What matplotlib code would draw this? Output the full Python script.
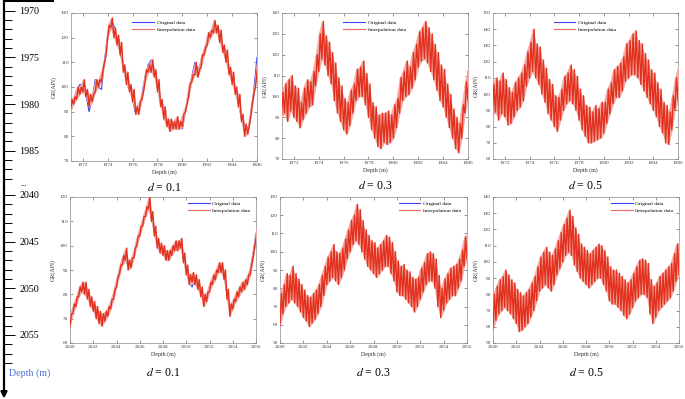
import numpy as np
import matplotlib
matplotlib.use("Agg")
import matplotlib.pyplot as plt
from matplotlib.lines import Line2D

plt.rcParams["font.family"] = ["Liberation Serif", "DejaVu Serif"]
plt.rcParams["mathtext.fontset"] = "stix"

BLUE = "#3c46ff"
RED = "#e2321f"
PINK = "#f4aaa2"

# depth samples (m), logged every 0.25 m
depth_top = np.arange(1971.0, 1986.001, 0.25)
depth_bot = np.arange(2040.0, 2056.001, 0.25)

# original GR log (API)
orig_top = [92, 95, 98, 101, 101, 97, 90, 95, 103, 100, 99, 111, 121, 127, 125, 119,
            114, 108, 103, 100, 95, 89, 90, 97, 104, 109, 111, 107, 100, 94, 89, 86,
            84, 85, 86, 85, 83, 90, 98, 104, 110, 107, 110, 115, 119, 122, 125, 124,
            120, 116, 112, 107, 103, 99, 94, 87, 82, 81, 89, 99, 112]
orig_bot = [70, 74, 77, 81, 83, 83, 80, 77, 75, 73, 71, 70, 71, 73, 76, 80,
            85, 90, 94, 96, 92, 93, 97, 102, 106, 110, 114, 117, 112, 106, 101, 99,
            98, 96, 96, 98, 100, 100, 101, 95, 90, 85, 83, 86, 84, 81, 78, 79,
            83, 86, 88, 91, 91, 88, 80, 74, 76, 79, 81, 83, 84, 86, 90, 97, 105]

# interpolated data, low / high swing at each sample
lo_top_01 = [90, 93, 95, 97, 98, 96, 92, 94, 98, 100, 102, 110, 120, 124, 120, 117,
             113, 106, 101, 98, 94, 89, 89, 95, 102, 106, 106, 104, 98, 92, 87, 84,
             82, 83, 83, 83, 84, 90, 96, 102, 105, 104, 108, 113, 117, 120, 122, 122,
             118, 114, 110, 105, 101, 97, 92, 86, 80, 81, 88, 97, 106]
hi_top_01 = [95, 96, 100, 100, 103, 99, 97, 97, 103, 103, 107, 113, 125, 128, 124, 121,
             118, 109, 106, 101, 99, 92, 94, 98, 107, 109, 111, 107, 103, 95, 92, 87,
             87, 86, 88, 86, 89, 93, 101, 105, 110, 107, 113, 116, 122, 123, 127, 125,
             123, 117, 115, 108, 106, 100, 97, 89, 85, 84, 93, 100, 111]
lo_top_03 = [90, 92, 88, 93, 90, 88, 85, 89, 92, 95, 96, 105, 112, 118, 115, 110,
             106, 98, 92, 88, 84, 82, 86, 92, 98, 100, 100, 96, 90, 84, 80, 76,
             75, 78, 77, 78, 80, 85, 92, 98, 100, 101, 104, 108, 114, 117, 118, 116,
             112, 108, 103, 98, 95, 90, 85, 80, 75, 73, 80, 92, 98]
hi_top_03 = [102, 106, 108, 110, 105, 104, 97, 104, 108, 107, 112, 120, 130, 136, 129, 126,
             121, 116, 109, 105, 99, 97, 103, 106, 113, 114, 117, 111, 106, 97, 95, 91,
             92, 92, 93, 91, 96, 99, 109, 112, 117, 114, 121, 125, 131, 133, 136, 133,
             130, 125, 121, 115, 113, 106, 101, 94, 90, 87, 96, 107, 113]
lo_top_05 = [86, 89, 84, 88, 86, 81, 82, 86, 90, 92, 96, 105, 110, 114, 110, 106,
             100, 95, 88, 84, 80, 77, 84, 90, 94, 96, 94, 90, 84, 78, 74, 70,
             70, 71, 72, 73, 76, 82, 88, 94, 98, 98, 102, 108, 110, 112, 112, 110,
             106, 102, 98, 94, 90, 86, 80, 76, 70, 69, 78, 90, 96]
hi_top_05 = [106, 110, 108, 113, 109, 104, 101, 107, 110, 113, 118, 126, 132, 140, 131, 129,
             121, 116, 109, 106, 99, 98, 103, 111, 113, 118, 115, 111, 103, 99, 93, 92,
             89, 93, 91, 95, 95, 103, 107, 115, 117, 119, 123, 131, 133, 137, 139, 133,
             131, 125, 121, 115, 113, 107, 103, 95, 93, 89, 99, 110, 117]

lo_bot_01 = [67, 72, 75, 79, 81, 80, 78, 75, 73, 70, 68, 67, 69, 71, 74, 78,
             83, 88, 92, 94, 90, 91, 95, 100, 104, 108, 112, 115, 110, 104, 99, 97,
             96, 94, 94, 96, 98, 98, 99, 93, 88, 84, 85, 84, 82, 79, 75, 77,
             81, 84, 86, 89, 89, 86, 78, 71, 74, 77, 79, 81, 82, 84, 88, 95, 103]
hi_bot_01 = [72, 76, 79, 83, 85, 85, 82, 79, 77, 75, 73, 72, 73, 75, 78, 82,
             87, 92, 96, 99, 94, 95, 99, 104, 108, 112, 116, 120, 114, 108, 103, 101,
             100, 98, 98, 100, 102, 102, 103, 97, 92, 88, 89, 88, 86, 83, 80, 81,
             85, 88, 90, 93, 93, 90, 82, 76, 78, 81, 83, 85, 86, 88, 92, 99, 107]
lo_bot_03 = [60, 66, 70, 72, 74, 72, 70, 67, 64, 62, 59, 61, 63, 66, 70, 76,
             82, 84, 86, 84, 82, 86, 90, 96, 100, 104, 106, 104, 100, 96, 92, 90,
             88, 86, 88, 90, 92, 92, 88, 84, 78, 76, 76, 74, 72, 70, 67, 70,
             74, 78, 82, 84, 84, 80, 70, 64, 68, 72, 74, 76, 76, 80, 84, 92, 96]
hi_bot_03 = [77, 82, 88, 87, 92, 88, 85, 82, 79, 76, 75, 77, 79, 82, 87, 92,
             97, 100, 104, 100, 99, 102, 107, 112, 117, 120, 126, 123, 117, 112, 109, 106,
             105, 102, 104, 106, 109, 108, 105, 100, 95, 92, 93, 90, 89, 86, 85, 86,
             91, 94, 99, 100, 99, 96, 87, 80, 85, 88, 91, 92, 93, 96, 101, 108, 110]
lo_bot_05 = [59, 64, 68, 70, 72, 70, 68, 65, 62, 57, 58, 60, 62, 66, 70, 76,
             82, 84, 86, 84, 82, 86, 92, 96, 100, 104, 106, 104, 98, 94, 90, 88,
             86, 84, 86, 88, 90, 90, 86, 82, 76, 74, 74, 72, 70, 67, 65, 68,
             72, 76, 78, 80, 80, 78, 68, 62, 66, 70, 72, 74, 76, 78, 82, 88, 92]
hi_bot_05 = [80, 85, 89, 91, 95, 92, 89, 87, 83, 81, 79, 81, 83, 87, 91, 97,
             103, 106, 109, 106, 104, 108, 113, 118, 123, 127, 132, 128, 121, 117, 111, 109,
             107, 105, 107, 109, 111, 110, 107, 103, 97, 95, 95, 93, 91, 89, 87, 89,
             93, 97, 101, 102, 101, 99, 89, 85, 87, 91, 93, 95, 97, 99, 105, 111, 112]

d_values = ["0.1", "0.3", "0.5"]
top_ylims = [(70, 130), (70, 140), (60, 150)]
bot_ylims = [(60, 120), (50, 130), (50, 140)]
top_xticks = list(range(1972, 1987, 2))
bot_xticks = list(range(2040, 2057, 2))

# depth scale on the left
scale_major_top = [1970, 1975, 1980, 1985]
scale_minor_top = list(range(1970, 1989))
scale_major_bot = [2040, 2045, 2050, 2055]
scale_minor_bot = list(range(2040, 2059))

W, H = 685, 399


def zigzag(depth, lo, hi):
    step = depth[1] - depth[0]
    x = np.empty(2 * len(depth))
    y = np.empty(2 * len(depth))
    x[0::2] = depth
    x[1::2] = depth + step / 2
    y[0::2] = lo
    y[1::2] = hi
    return x, y


def draw_panel(ax, depth, orig, lo, hi, xlim, ylim, xticks, caption, leg_xy, cap_y):
    ax.plot(depth, orig, color=BLUE, lw=0.8, zorder=2)
    ax.fill_between(depth, lo, hi, facecolor=PINK, edgecolor=PINK, lw=0.5, zorder=3)
    zx, zy = zigzag(depth, lo, hi)
    ax.plot(zx, zy, color=RED, lw=1.0, zorder=4)
    ax.set_xlim(*xlim)
    ax.set_ylim(*ylim)
    ax.set_xticks(xticks)
    ax.set_yticks(range(ylim[0], ylim[1] + 1, 10))
    ax.tick_params(direction="in", length=2, width=0.4, labelsize=3.8, pad=1.5,
                   top=True, right=True, colors="#444444")
    for sp in ax.spines.values():
        sp.set_linewidth(0.5)
        sp.set_color("#8a8a8a")
    ax.set_xlabel("Depth (m)", fontsize=4.3, labelpad=1.5, color="#333333")
    ax.set_ylabel("GR(API)", fontsize=4.3, labelpad=3, color="#333333")
    handles = [Line2D([], [], color=BLUE, lw=0.8), Line2D([], [], color="#ef6a5c", lw=0.8)]
    ax.legend(handles, ["Original data", "Interpolation data"], loc="upper left",
              bbox_to_anchor=leg_xy, frameon=False, fontsize=3.9, handlelength=4.0,
              handletextpad=0.5, labelspacing=0.45, borderaxespad=0, borderpad=0.3)
    ax.text(0.5, cap_y, r"$d$ = " + caption, transform=ax.transAxes,
            ha="center", va="center", fontsize=8.5)


fig = plt.figure(figsize=(W / 100, H / 100), dpi=100)

top_boxes = [(71, 13, 257, 161), (282, 13, 468, 159), (493, 13, 678, 159)]
bot_boxes = [(70, 197, 256, 343), (280, 197, 467, 343), (493, 197, 679, 343)]
top_lo = [lo_top_01, lo_top_03, lo_top_05]
top_hi = [hi_top_01, hi_top_03, hi_top_05]
bot_lo = [lo_bot_01, lo_bot_03, lo_bot_05]
bot_hi = [hi_bot_01, hi_bot_03, hi_bot_05]


def add_box(x0, y0, x1, y1):
    return fig.add_axes([x0 / W, 1 - y1 / H, (x1 - x0) / W, (y1 - y0) / H])


for i in range(3):
    ax = add_box(*top_boxes[i])
    draw_panel(ax, depth_top, orig_top, top_lo[i], top_hi[i], (1971.05, 1986),
               top_ylims[i], top_xticks, d_values[i], (0.32, 0.965), -0.185)
    ax = add_box(*bot_boxes[i])
    draw_panel(ax, depth_bot, orig_bot, bot_lo[i], bot_hi[i], (2040, 2056),
               bot_ylims[i], bot_xticks, d_values[i], (0.625, 0.985), -0.205)

# depth arrow on the left
px_per_m = 9.33
ax_d1 = add_box(4, 0, 52, 188)
ax_d1.set_ylim(1968.85 + 188 / px_per_m, 1968.85)
ax_d2 = add_box(4, 188, 52, 399)
ax_d2.set_ylim(2039.25 + 211 / px_per_m, 2039.25)
for ax, major, minor in [(ax_d1, scale_major_top, scale_minor_top),
                         (ax_d2, scale_major_bot, scale_minor_bot)]:
    ax.patch.set_visible(False)
    ax.set_xticks([])
    ax.set_yticks(major)
    ax.set_yticks(minor, minor=True)
    ax.tick_params(which="major", direction="in", length=8, width=0.7,
                   labelsize=7.2, pad=-11)
    ax.tick_params(which="minor", direction="in", length=5.5, width=0.7)
    for lab in ax.get_yticklabels():
        lab.set_horizontalalignment("left")
    for name in ["right", "bottom", "top", "left"]:
        ax.spines[name].set_visible(False)
ax_d1.spines["left"].set_visible(True)
ax_d1.spines["left"].set_linewidth(1.6)
ax_d1.spines["top"].set_visible(True)
ax_d1.spines["top"].set_linewidth(2.2)
ax_d2.annotate("", xy=(0, 0.002), xytext=(0, 1), xycoords="axes fraction",
               arrowprops=dict(arrowstyle="-|>", lw=1.6, color="black",
                               mutation_scale=9, shrinkA=0, shrinkB=0))
fig.text(20 / W, 1 - 184 / H, "...", fontsize=6, va="center", ha="left")
fig.text(9 / W, 1 - 373 / H, "Depth (m)", fontsize=7.2, va="center", ha="left",
         color="#4a72d8")

fig.savefig("out.png", dpi=100)
